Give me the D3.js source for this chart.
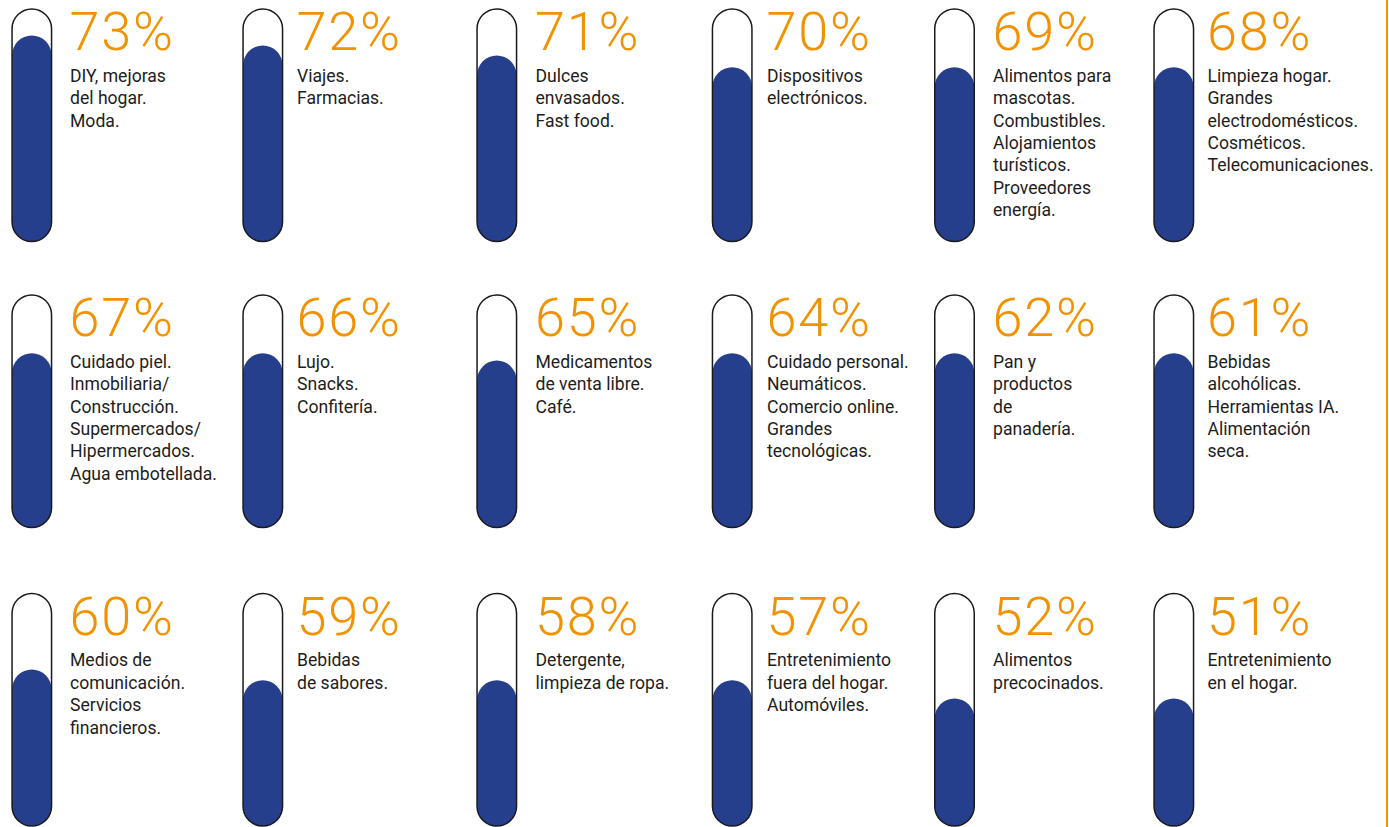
<!DOCTYPE html>
<html>
<head>
<meta charset="utf-8">
<script src="https://cdn.jsdelivr.net/npm/d3@7"></script>
<style>
  html, body { margin: 0; padding: 0; background: #ffffff; }
  svg { display: block; }
</style>
</head>
<body>
<svg id="chart" width="1389" height="827"></svg>
<script>
// ---- data ----
const values = [73, 72, 71, 70, 69, 68, 67, 66, 65, 64, 62, 61, 60, 59, 58, 57, 52, 51];
// visual fill level of each tube as drawn in the source graphic (percent of tube height)
const fillLevels = [88.6, 84.3, 80, 75, 75, 75, 75, 75, 71.8, 75, 75, 75, 67.3, 62.7, 62.7, 62.7, 54.9, 54.9];
const labels = [
  ["DIY, mejoras", "del hogar.", "Moda."],
  ["Viajes.", "Farmacias."],
  ["Dulces", "envasados.", "Fast food."],
  ["Dispositivos", "electrónicos."],
  ["Alimentos para", "mascotas.", "Combustibles.", "Alojamientos", "turísticos.", "Proveedores", "energía."],
  ["Limpieza hogar.", "Grandes", "electrodomésticos.", "Cosméticos.", "Telecomunicaciones."],
  ["Cuidado piel.", "Inmobiliaria/", "Construcción.", "Supermercados/", "Hipermercados.", "Agua embotellada."],
  ["Lujo.", "Snacks.", "Confitería."],
  ["Medicamentos", "de venta libre.", "Café."],
  ["Cuidado personal.", "Neumáticos.", "Comercio online.", "Grandes", "tecnológicas."],
  ["Pan y", "productos", "de", "panadería."],
  ["Bebidas", "alcohólicas.", "Herramientas IA.", "Alimentación", "seca."],
  ["Medios de", "comunicación.", "Servicios", "financieros."],
  ["Bebidas", "de sabores."],
  ["Detergente,", "limpieza de ropa."],
  ["Entretenimiento", "fuera del hogar.", "Automóviles."],
  ["Alimentos", "precocinados."],
  ["Entretenimiento", "en el hogar."]
];

// ---- layout ----
const tubeLeft = [11.3, 242.3, 476.3, 711.7, 934, 1153.3];
const textLeft = [70, 297, 535.5, 767, 993, 1207.5];
const rowTop = [8.3, 294.3, 592.8];
const tubeH = 234, tubeW = 41, strokeW = 1.5;
const ORANGE = "#f39200", BLUE = "#263f8d", INK = "#1d1d1b";

const svg = d3.select("#chart");

const items = values.map((v, i) => ({
  value: v, level: fillLevels[i], lines: labels[i],
  col: i % 6, row: Math.floor(i / 6)
}));

const g = svg.selectAll("g.item").data(items).join("g").attr("class", "item");

g.each(function(d) {
  const el = d3.select(this);
  const top = rowTop[d.row], bottom = top + tubeH;
  const y = d3.scaleLinear().domain([0, 100]).range([bottom - strokeW / 2, top + strokeW / 2]);
  const x0 = tubeLeft[d.col];

  // fill
  el.append("rect")
    .attr("x", x0 + strokeW / 2)
    .attr("width", tubeW - strokeW)
    .attr("y", y(d.level))
    .attr("height", y(0) - y(d.level))
    .attr("rx", (tubeW - strokeW) / 2)
    .attr("fill", BLUE);

  // tube outline
  el.append("rect")
    .attr("x", x0 + strokeW / 2)
    .attr("width", tubeW - strokeW)
    .attr("y", top + strokeW / 2)
    .attr("height", tubeH - strokeW)
    .attr("rx", (tubeW - strokeW) / 2)
    .attr("fill", "none")
    .attr("stroke", "#1a1a1a")
    .attr("stroke-width", strokeW);

  const tx = textLeft[d.col];
  el.append("text")
    .attr("x", tx - 0.5)
    .attr("y", top + 41.7)
    .attr("fill", ORANGE)
    .style("font-family", "Roboto, 'Open Sans', sans-serif")
    .style("font-weight", 300)
    .style("font-size", "54px")
    .style("letter-spacing", "1.8px")
    .text(d.value + "%");

  const t = el.append("text")
    .attr("fill", INK)
    .style("font-family", "Roboto, 'Open Sans', sans-serif")
    .style("font-size", "17.6px");
  t.selectAll("tspan").data(d.lines).join("tspan")
    .attr("x", tx)
    .attr("y", (l, j) => top + 73.5 + j * 22.4)
    .text(l => l);
});

// orange rule at the right edge
svg.append("line")
  .attr("x1", 1387).attr("x2", 1387)
  .attr("y1", 0).attr("y2", 827)
  .attr("stroke", ORANGE)
  .attr("stroke-width", 2);
</script>
</body>
</html>
